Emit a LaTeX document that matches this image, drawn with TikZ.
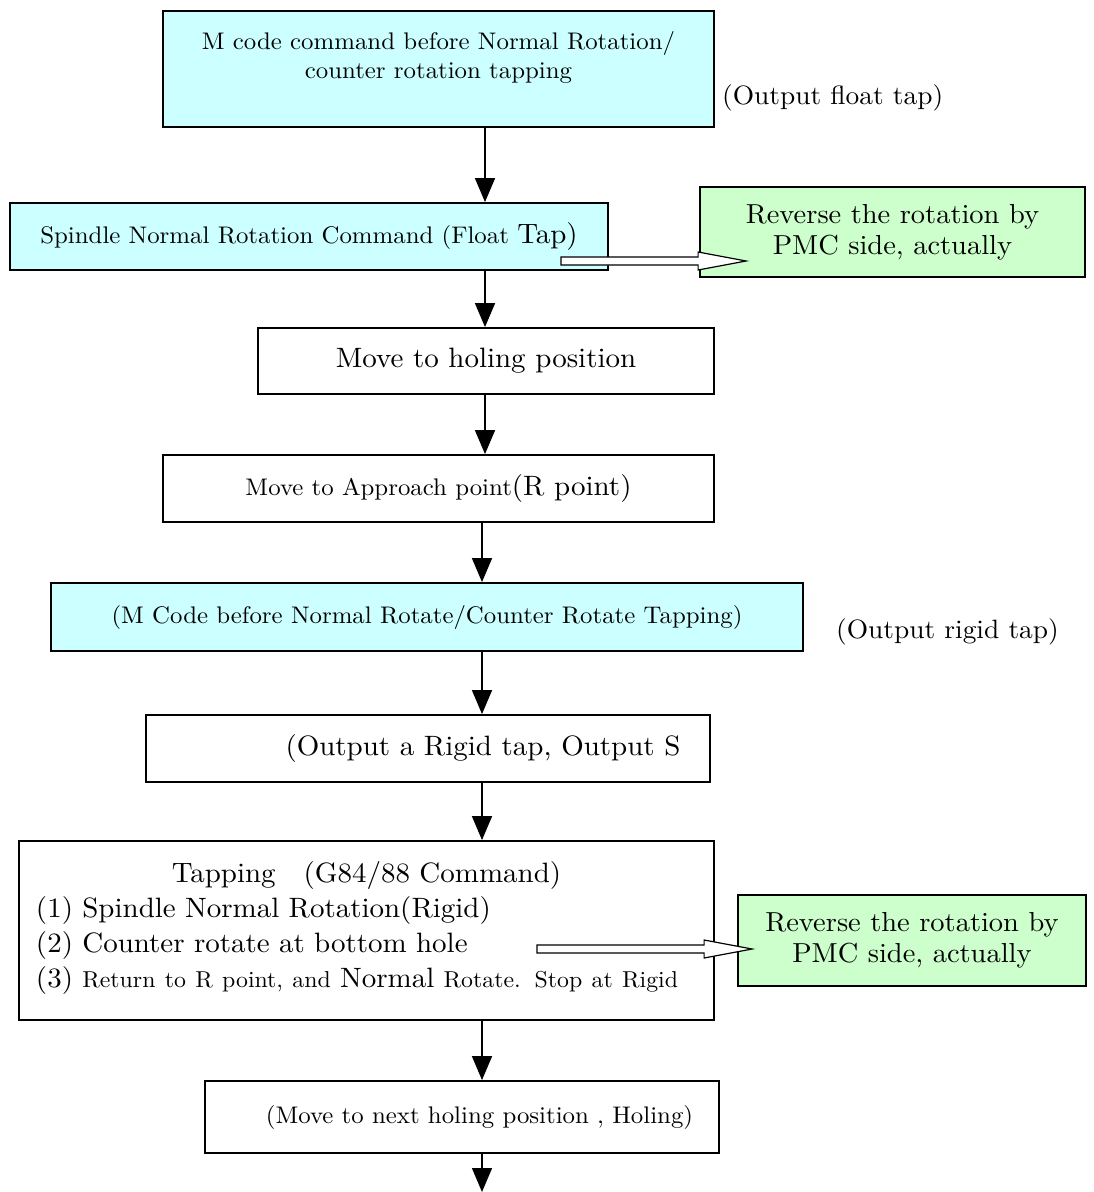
\documentclass[tikz,border=0pt]{standalone}
\usepackage{fontspec}
\setmainfont{lmroman10-regular.otf}[FakeStretch=1.035]
\usetikzlibrary{arrows.meta,calc}

\newlength{\du}
\setlength{\du}{15\unitlength}

\newcommand{\smalltxt}{\fontsize{24}{29}\selectfont}
\newcommand{\bigtxt}{\fontsize{28}{34}\selectfont}
\newcommand{\lbltxt}{\fontsize{26.5}{32}\selectfont}
\newcommand{\steptxt}{\fontsize{28}{35}\selectfont}
\newcommand{\stepsmall}{\fontsize{23}{35}\selectfont}
\newcommand{\notetxt}{\fontsize{27.5}{31}\selectfont}

% white block arrow, shaft from #1, tip at #2
\newcommand{\hollowarrow}[2]{%
\draw[hollow] ($(#1)+(0,-4pt)$) -- ($(#2)+(-48pt,-4pt)$) -- ($(#2)+(-48pt,-9pt)$)
  -- (#2) -- ($(#2)+(-48pt,9pt)$) -- ($(#2)+(-48pt,4pt)$) -- ($(#1)+(0,4pt)$) -- cycle;}

\begin{document}
\begin{tikzpicture}[
  procbox/.style={draw=black, line width=0.12\du, fill=white, inner sep=0pt, align=center, font=\smalltxt},
  mbox/.style={procbox, fill=tapcyan},
  notebox/.style={procbox, fill=tapgreen, font=\notetxt},
  flow/.style={line width=0.1\du, -{Triangle[width=20pt,length=24pt]}},
  hollow/.style={draw=black, line width=0.08\du, fill=white}]
\pgftransformxscale{1.000000}
\pgftransformyscale{-1.000000}
\definecolor{tapcyan}{rgb}{0.800000, 1.000000, 1.000000}
\definecolor{tapgreen}{rgb}{0.800000, 1.000000, 0.800000}
\useasboundingbox (0\du,0\du) rectangle (72.9333\du,79.4667\du);

% main column
\node[mbox, minimum width=36.7333\du, minimum height=7.7333\du] (mcmd) at (29.2333\du,4.6\du)
  {M code command before Normal Rotation/\\counter rotation tapping\\\mbox{}};
\node[mbox, minimum width=39.8667\du, minimum height=4.4667\du] (spin) at (20.6\du,15.7667\du)
  {Spindle Normal Rotation Command (Float {\bigtxt Tap)}};
\node[procbox, font=\bigtxt, minimum width=30.4\du, minimum height=4.4\du] (hole) at (32.4\du,24.0667\du)
  {Move to holing position};
\node[procbox, minimum width=36.7333\du, minimum height=4.4667\du] (appr) at (29.2333\du,32.5667\du)
  {Move to Approach point{\bigtxt (R point)}};
\node[mbox, minimum width=50.1333\du, minimum height=4.5333\du] (mrig) at (28.4667\du,41.1333\du)
  {(M Code before Normal Rotate/Counter Rotate Tapping)};
\node[procbox, font=\bigtxt, minimum width=37.6\du, minimum height=4.4667\du] (outs) at (28.5333\du,49.9\du)
  {\hspace*{110pt}(Output a Rigid tap, Output S};
\node[procbox, font=\steptxt, align=left, minimum width=46.3333\du, minimum height=11.9333\du,
  text width=44.0667\du] (tap) at (24.4333\du,62.0333\du)
  {\centering Tapping\quad(G84/88 Command)\par
   \raggedright (1) Spindle Normal Rotation(Rigid)\\
   (2) Counter rotate at bottom hole\\
   (3) {\stepsmall Return to R point, and} Normal {\stepsmall Rotate. Stop at Rigid}\\[-22pt]
   \mbox{}};
\node[procbox, minimum width=34.2667\du, minimum height=4.8\du] (next) at (30.8\du,74.4667\du)
  {\hspace*{35pt}(Move to next holing position , Holing)};

% side notes
\node[notebox, minimum width=25.6667\du, minimum height=6\du] (rev1) at (59.5\du,15.4667\du)
  {Reverse the rotation by\\PMC side, actually};
\node[notebox, minimum width=23.2\du, minimum height=6.0667\du] (rev2) at (60.8\du,62.7\du)
  {Reverse the rotation by\\PMC side, actually};
\node[font=\lbltxt, anchor=west, inner sep=0pt] (floatlbl) at (48.1333\du,6.5333\du) {(Output float tap)};
\node[font=\lbltxt, anchor=west, inner sep=0pt] (rigidlbl) at (55.7333\du,42.1333\du) {(Output rigid tap)};

% flow arrows
\coordinate (colA) at (32.3333\du,0\du);
\coordinate (colB) at (32.1333\du,0\du);
\coordinate (endpt) at (32.1333\du,79.4667\du);
\draw[flow] (colA |- mcmd.south) -- (colA |- spin.north);
\draw[flow] (colA |- spin.south) -- (colA |- hole.north);
\draw[flow] (colA |- hole.south) -- (colA |- appr.north);
\draw[flow] (colB |- appr.south) -- (colB |- mrig.north);
\draw[flow] (colB |- mrig.south) -- (colB |- outs.north);
\draw[flow] (colB |- outs.south) -- (colB |- tap.north);
\draw[flow] (colB |- tap.south) -- (colB |- next.north);
\draw[flow] (colB |- next.south) -- (endpt);

% block arrows to the notes
\coordinate (fa) at ($(spin.east)+(-48pt,24.5pt)$);
\coordinate (fb) at ($(rev1.west)+(47pt,29pt)$);
\coordinate (ra) at ($(tap.east)+(-178pt,18.5pt)$);
\coordinate (rb) at ($(rev2.west)+(15pt,8.5pt)$);
\hollowarrow{fa}{fb}
\hollowarrow{ra}{rb}
\end{tikzpicture}
\end{document}
